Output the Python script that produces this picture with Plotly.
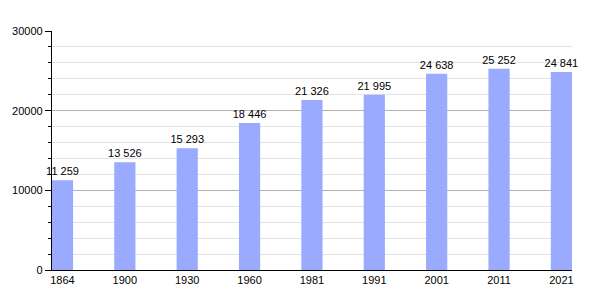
import plotly.graph_objects as go

years = ["1864", "1900", "1930", "1960", "1981", "1991", "2001", "2011", "2021"]
population = [11259, 13526, 15293, 18446, 21326, 21995, 24638, 25252, 24841]
labels = [f"{v:,}".replace(",", " ") for v in population]

fig = go.Figure(go.Bar(
    x=years, y=population, text=labels, textposition="outside",
    constraintext="none",
    outsidetextfont=dict(size=11, color="black", family="Liberation Sans, Arial, sans-serif"),
    marker=dict(color="#99aaff", line=dict(width=0)),
    width=0.34, cliponaxis=False,
))

fig.update_layout(
    width=600, height=300,
    margin=dict(l=50, r=28, t=31, b=30),
    plot_bgcolor="white", paper_bgcolor="white",
    showlegend=False,
    font=dict(family="Liberation Sans, Arial, sans-serif", size=11, color="black"),
    xaxis=dict(type="category", range=[-0.168, 8.17], showline=True, linecolor="black",
               linewidth=1.2, ticks="", showgrid=False, tickfont=dict(size=11)),
    yaxis=dict(range=[0, 30000], dtick=10000, tickformat="d", showline=True, linecolor="black",
               linewidth=1.2, ticks="outside", ticklen=6, tickcolor="black", showgrid=True,
               gridcolor="#b4b4b4", gridwidth=1, zeroline=False, tickfont=dict(size=11),
               minor=dict(dtick=2000, showgrid=True, gridcolor="#e3e3e3", ticks="outside",
                          ticklen=3, tickcolor="black")),
)

fig.write_html("out.html")
